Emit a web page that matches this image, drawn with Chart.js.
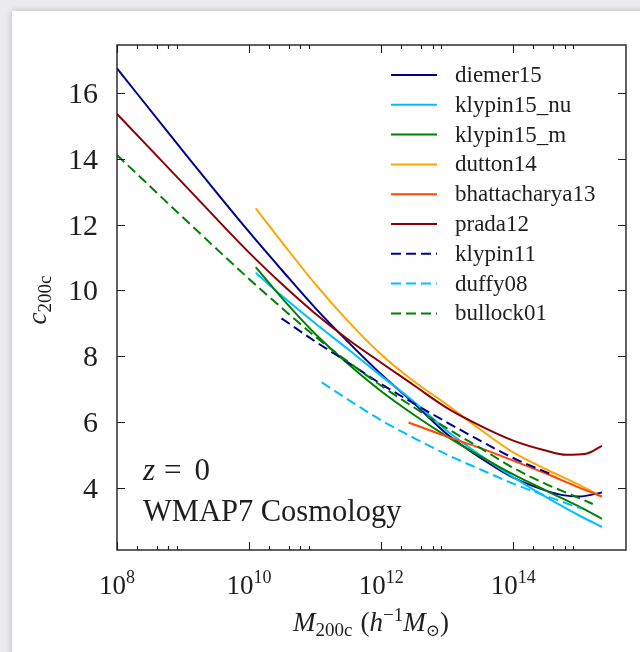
<!DOCTYPE html>
<html>
<head>
<meta charset="utf-8">
<script src="https://cdn.jsdelivr.net/npm/chart.js@4.4.1/dist/chart.umd.min.js"></script>
<style>
html, body { margin: 0; padding: 0; background: #ececee; overflow: hidden; }
#panel { position: absolute; left: 12px; top: 11px; width: 660px; height: 680px; background: #fff; box-shadow: 0 0 7px rgba(0,0,0,0.22); }
#chart { position: absolute; left: 0; top: 0; }
</style>
</head>
<body>
<div id="panel"></div>
<canvas id="chart" width="640" height="652"></canvas>
<script>
// c200c - M200c relations, WMAP7, z = 0
var diemer15M = [1e8, 1e9, 1e10, 3.2e10, 1e11, 3.2e11, 1e12, 3.2e12, 1e13, 3.2e13, 1e14, 3.2e14, 5.6e14, 1e15, 2.2e15];
var diemer15C = [16.76, 14.24, 11.78, 10.6, 9.47, 8.42, 7.45, 6.55, 5.62, 4.9, 4.3, 3.9, 3.77, 3.73, 3.85];

var klypin15M = [1.26e10, 3.2e10, 1e11, 3.2e11, 1e12, 3.2e12, 1e13, 3.2e13, 1e14, 3.2e14, 1e15, 2.2e15];
var klypin15nuC = [10.54, 9.82, 9.0, 8.2, 7.4, 6.6, 5.72, 4.98, 4.32, 3.7, 3.15, 2.8];
var klypin15mC = [10.71, 9.75, 8.68, 7.75, 6.93, 6.2, 5.55, 4.95, 4.4, 3.9, 3.42, 3.05];

var dutton14M = [1.26e10, 3.2e10, 1e11, 3.2e11, 1e12, 3.2e12, 1e13, 3.2e13, 1e14, 3.2e14, 1e15, 2.2e15];
var dutton14C = [12.5, 11.45, 10.2, 9.05, 8.05, 7.22, 6.52, 5.76, 5.07, 4.55, 4.08, 3.72];

var bhatt13M = [2.6e12, 1e13, 3.2e13, 1e14, 3.2e14, 1e15, 2.2e15];
var bhatt13C = [5.98, 5.55, 5.2, 4.82, 4.42, 4.0, 3.73];

var prada12M = [1e8, 1e9, 1e10, 3.2e10, 1e11, 3.2e11, 1e12, 3.2e12, 1e13, 3.2e13, 1e14, 3.2e14, 6.3e14, 1.26e15, 2.2e15];
var prada12C = [15.37, 13.26, 11.15, 10.18, 9.3, 8.5, 7.8, 7.1, 6.42, 5.88, 5.43, 5.12, 5.0, 5.03, 5.27];

var klypin11M = [3.1e10, 1e11, 3.2e11, 1e12, 3.2e12, 1e13, 3.2e13, 1e14, 3.6e14];
var klypin11C = [9.15, 8.45, 7.8, 7.15, 6.55, 5.98, 5.42, 4.9, 4.42];

var duffy08M = [1.26e11, 3.2e11, 1e12, 3.2e12, 1e13, 3.2e13, 1e14, 3.2e14, 1.07e15];
var duffy08C = [7.2, 6.67, 6.05, 5.5, 5.0, 4.55, 4.12, 3.74, 3.36];

var bullock01M = [1e8, 1e9, 1e10, 3.2e10, 1e11, 3.2e11, 1e12, 3.2e12, 1e13, 3.2e13, 1e14, 3.2e14, 1e15, 1.6e15];
var bullock01C = [14.12, 12.22, 10.35, 9.45, 8.6, 7.82, 7.1, 6.43, 5.8, 5.2, 4.6, 4.1, 3.68, 3.5];

var xLabelExps = [8, 10, 12, 14];
var xMajorTicks = [1e8, 1e10, 1e12, 1e14];
var xMinorTicks = [2e8, 4e8, 6e8, 8e8, 2e10, 4e10, 6e10, 8e10, 2e12, 4e12, 6e12, 8e12, 2e14, 4e14, 6e14, 8e14];
var yTicks = [4, 6, 8, 10, 12, 14, 16];

var FONT = '"Liberation Serif", "DejaVu Serif", serif';

var pts = function (ms, cs) {
    return ms.map(function (m, i) { return {x: m, y: cs[i]}; });
};

var series = [
    {label: "diemer15", m: diemer15M, c: diemer15C, color: "#00008b", dash: []},
    {label: "klypin15_nu", m: klypin15M, c: klypin15nuC, color: "#00bfff", dash: []},
    {label: "klypin15_m", m: klypin15M, c: klypin15mC, color: "#008000", dash: []},
    {label: "dutton14", m: dutton14M, c: dutton14C, color: "#ffa500", dash: []},
    {label: "bhattacharya13", m: bhatt13M, c: bhatt13C, color: "#ff4500", dash: []},
    {label: "prada12", m: prada12M, c: prada12C, color: "#8b0000", dash: []},
    {label: "klypin11", m: klypin11M, c: klypin11C, color: "#00008b", dash: [10, 5]},
    {label: "duffy08", m: duffy08M, c: duffy08C, color: "#00bfff", dash: [10, 5]},
    {label: "bullock01", m: bullock01M, c: bullock01C, color: "#008000", dash: [10, 5]}
];

var font = function (size, italic) {
    return (italic ? "italic " : "") + size + "px " + FONT;
};

// draws a run of text pieces (for sub/superscripts)
var drawRich = function (ctx, parts, x, y, align) {
    var w = 0;
    parts.forEach(function (p) {
        ctx.font = font(p.s, p.i);
        p.w = ctx.measureText(p.t).width;
        w += p.w + (p.gap || 0);
    });
    var cx = x;
    if (align === "center") cx = x - w / 2;
    if (align === "right") cx = x - w;
    ctx.textAlign = "left";
    parts.forEach(function (p) {
        ctx.font = font(p.s, p.i);
        ctx.fillText(p.t, cx, y + (p.dy || 0));
        cx += p.w + (p.gap || 0);
    });
};

var decor = {
    id: "decor",
    afterDraw: function (chart) {
        var ctx = chart.ctx;
        var a = chart.chartArea;
        var xs = chart.scales.x, ys = chart.scales.y;
        ctx.save();
        ctx.strokeStyle = "#1e1e1e";
        ctx.fillStyle = "#1e1e1e";
        ctx.lineWidth = 1.4;
        ctx.strokeRect(a.left, a.top, a.right - a.left, a.bottom - a.top);

        ctx.lineWidth = 1.1;
        ctx.beginPath();
        xMajorTicks.forEach(function (v) {
            var px = Math.round(xs.getPixelForValue(v)) + 0.5;
            ctx.moveTo(px, a.bottom); ctx.lineTo(px, a.bottom - 8);
            ctx.moveTo(px, a.top); ctx.lineTo(px, a.top + 8);
        });
        xMinorTicks.forEach(function (v) {
            var px = Math.round(xs.getPixelForValue(v)) + 0.5;
            ctx.moveTo(px, a.bottom); ctx.lineTo(px, a.bottom - 4);
            ctx.moveTo(px, a.top); ctx.lineTo(px, a.top + 4);
        });
        yTicks.forEach(function (v) {
            var py = Math.round(ys.getPixelForValue(v)) + 0.5;
            ctx.moveTo(a.left, py); ctx.lineTo(a.left + 8, py);
            ctx.moveTo(a.right, py); ctx.lineTo(a.right - 8, py);
        });
        ctx.stroke();

        // tick labels
        xLabelExps.forEach(function (e) {
            var px = xs.getPixelForValue(Math.pow(10, e));
            drawRich(ctx, [{t: "10", s: 27}, {t: String(e), s: 18, dy: -11}], px, 594, "center");
        });
        ctx.textBaseline = "alphabetic";
        yTicks.forEach(function (v) {
            var py = ys.getPixelForValue(v);
            drawRich(ctx, [{t: String(v), s: 30}], 98, py + 10, "right");
        });

        // axis titles
        drawRich(ctx, [
            {t: "M", s: 27, i: true}, {t: "200c", s: 19, dy: 5, gap: 8},
            {t: "(", s: 27}, {t: "h", s: 27, i: true}, {t: "\u22121", s: 19, dy: -10},
            {t: "M", s: 27, i: true}, {t: "\u2299", s: 17, dy: 5}, {t: ")", s: 27}
        ], 371, 631, "center");

        ctx.save();
        ctx.translate(46, 300);
        ctx.rotate(-Math.PI / 2);
        drawRich(ctx, [{t: "c", s: 27, i: true}, {t: "200c", s: 19, dy: 5}], 0, 0, "center");
        ctx.restore();

        // annotations
        drawRich(ctx, [{t: "z", s: 31, i: true, gap: 9}, {t: "=", s: 31, gap: 13}, {t: "0", s: 31}], 143, 480, "left");
        drawRich(ctx, [{t: "WMAP7 Cosmology", s: 30.5}], 143, 521, "left");

        // legend
        chart.data.datasets.forEach(function (ds, i) {
            var y = 75 + i * 29.8;
            ctx.strokeStyle = ds.borderColor;
            ctx.lineWidth = 2;
            ctx.setLineDash(ds.borderDash || []);
            ctx.beginPath();
            ctx.moveTo(391, y); ctx.lineTo(437, y);
            ctx.stroke();
            ctx.setLineDash([]);
            ctx.fillStyle = "#1e1e1e";
            drawRich(ctx, [{t: ds.label, s: 23}], 455, y + 7, "left");
        });
        ctx.restore();
    }
};

var config = {
    type: "scatter",
    data: {
        datasets: series.map(function (s, i) {
            return {
                label: s.label,
                data: pts(s.m, s.c),
                showLine: true,
                borderColor: s.color,
                backgroundColor: s.color,
                borderWidth: 2,
                borderDash: s.dash,
                pointRadius: 0,
                cubicInterpolationMode: "monotone",
                order: series.length - i
            };
        })
    },
    options: {
        responsive: false,
        animation: false,
        events: [],
        layout: {padding: {left: 117, top: 45, right: 14, bottom: 102}},
        plugins: {legend: {display: false}, tooltip: {enabled: false}},
        scales: {
            x: {type: "logarithmic", min: 1e8, max: 5.1e15, display: false},
            y: {type: "linear", min: 2.1, max: 17.47, display: false}
        }
    },
    plugins: [decor]
};

var chart = new Chart(document.getElementById("chart"), config);
</script>
</body>
</html>
